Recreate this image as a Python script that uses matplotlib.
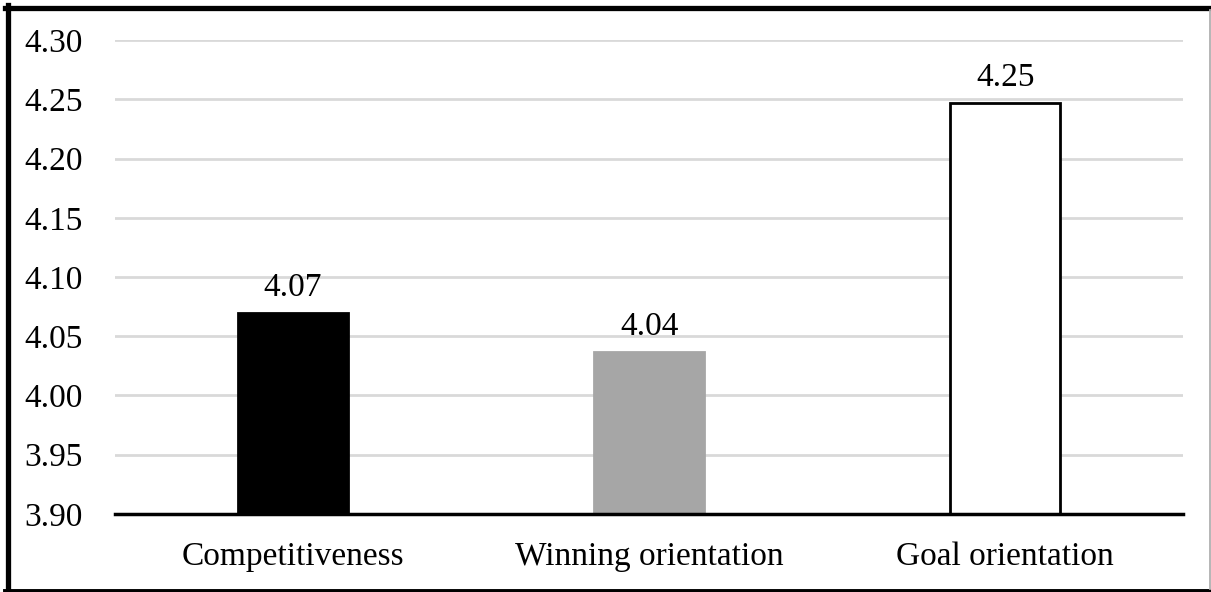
import matplotlib.pyplot as plt
from matplotlib.lines import Line2D
import numpy as np

categories = ['Competitiveness', 'Winning orientation', 'Goal orientation']
values = [4.07, 4.037, 4.247]
labels = ['4.07', '4.04', '4.25']
colors = ['black', '#a6a6a6', 'white']

plt.rcParams['font.family'] = 'Liberation Serif'

W, H = 1211, 592
fig = plt.figure(figsize=(W / 100, H / 100), dpi=100)
ax = fig.add_axes([0.095, 0.132, 0.882, 0.8])

x = np.arange(len(categories))
ax.bar(x, np.array(values) - 3.9, bottom=3.9, width=0.31, color=colors,
       edgecolor=['black', '#a6a6a6', 'black'], linewidth=2, zorder=3)

for xi, v, lab in zip(x, values, labels):
    ax.text(xi, v + 0.0085, lab, ha='center', va='bottom', fontsize=24)

ticks = np.arange(3.90, 4.301, 0.05)
ax.set_xlim(-0.5, 2.5)
ax.set_ylim(3.9, 4.3)
ax.set_yticks(ticks)
ax.set_yticklabels(['%.2f' % t for t in ticks], fontsize=24)
ax.set_xticks(x)
ax.set_xticklabels(categories, fontsize=24)
ax.tick_params(axis='x', length=0, pad=20)
ax.tick_params(axis='y', length=0, pad=23)

ax.grid(axis='y', color='#d9d9d9', linewidth=2, zorder=0)
for s in ['top', 'right', 'left']:
    ax.spines[s].set_visible(False)
ax.spines['bottom'].set_linewidth(2.5)
ax.spines['bottom'].set_zorder(4)

# frame round the picture: black top/left/bottom, thin grey right
def px(xp, yp):
    return xp / W, 1 - yp / H

for (x0, y0), (x1, y1), c, lw in [
        ((5, 7.5), (W, 7.5), 'black', 3.8),
        ((7.5, 5), (7.5, H), 'black', 3.8),
        ((5, 590.5), (W, 590.5), 'black', 2.8),
        ((1209.5, 10), (1209.5, 589), '#b0b0b0', 1.3)]:
    a, b = px(x0, y0)
    c2, d = px(x1, y1)
    fig.add_artist(Line2D([a, c2], [b, d], transform=fig.transFigure,
                          color=c, linewidth=lw))

fig.savefig('out.png', dpi=100)
